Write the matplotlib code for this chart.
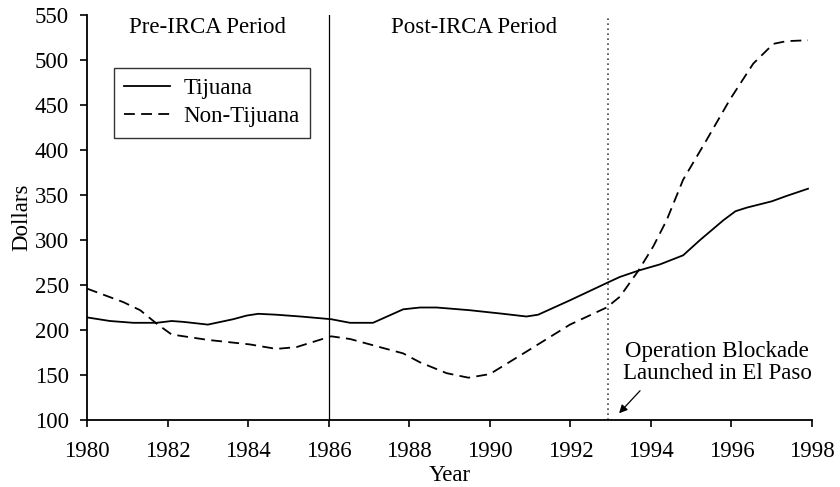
import matplotlib
matplotlib.use("Agg")
import matplotlib.pyplot as plt

plt.rcParams["font.family"] = ["Liberation Serif", "DejaVu Serif"]

# ---------- data ----------
tij_year = [1980.0, 1980.57, 1981.15, 1981.73, 1982.1, 1982.4, 1983.0, 1983.63,
            1983.96, 1984.25, 1984.7, 1985.3, 1986.06, 1986.53, 1987.1, 1987.5,
            1987.85, 1988.27, 1988.68, 1989.5, 1990.33, 1990.91, 1991.2, 1991.99,
            1992.94, 1993.23, 1993.69, 1994.23, 1994.8, 1995.22, 1995.8, 1996.1,
            1996.38, 1997.0, 1997.37, 1997.9]
tij_val = [214, 210, 208, 208, 210, 209, 206, 212,
           216, 218, 217, 215, 212, 208, 208, 216,
           223, 225, 225, 222, 218, 215, 217, 233,
           253, 259, 266, 273, 283, 300, 322, 332,
           336, 343, 349, 357]

non_year = [1980.0, 1980.9, 1981.32, 1981.73, 1982.1, 1983.0, 1984.04, 1984.7,
            1985.2, 1986.06, 1986.53, 1987.35, 1987.85, 1988.27, 1988.93, 1989.47,
            1990.0, 1990.91, 1991.99, 1992.9, 1993.23, 1993.69, 1994.06, 1994.39,
            1994.8, 1995.38, 1995.96, 1996.54, 1997.04, 1997.37, 1997.9]
non_val = [246, 231, 222, 207, 195, 189, 184, 179,
           181, 193, 190, 180, 174, 164, 152, 147,
           151, 176, 206, 225, 237, 266, 293, 322,
           367, 411, 456, 496, 518, 521, 522]

irca_year = 1986
blockade_year = 1992.93

# ---------- plot ----------
fig = plt.figure(figsize=(8.4, 4.87), dpi=100)
ax = fig.add_axes([0.1036, 0.1376, 0.8631, 0.8315])

fs = 16.5

ax.plot(tij_year, tij_val, color="black", lw=1.3, label="Tijuana")
ax.plot(non_year, non_val, color="black", lw=1.3, dashes=(6, 3.5), label="Non-Tijuana")

ax.axvline(irca_year, color="black", lw=0.9)
ax.axvline(blockade_year, color="#444444", lw=1.2, linestyle=(0, (1, 2)))

ax.set_xlim(1980, 1998)
ax.set_ylim(100, 550)
ax.set_xticks(range(1980, 1999, 2))
ax.set_yticks(range(100, 551, 50))
ax.tick_params(labelsize=fs, length=5, width=1.2, direction="out")
ax.tick_params(axis="x", pad=10)
ax.tick_params(axis="y", pad=8)
for s in ["top", "right"]:
    ax.spines[s].set_visible(False)
for s in ["left", "bottom"]:
    ax.spines[s].set_linewidth(1.3)

ax.set_xlabel("Year", fontsize=fs, labelpad=2)
ax.set_ylabel("Dollars", fontsize=fs, labelpad=2)

ax.text(1983.0, 536, "Pre-IRCA Period", fontsize=fs, ha="center", va="center")
ax.text(1989.6, 536, "Post-IRCA Period", fontsize=fs, ha="center", va="center")

ax.text(1995.65, 164, "Operation Blockade\nLaunched in El Paso",
        fontsize=fs, ha="center", va="center", linespacing=1.05)
ax.annotate("", xy=(1993.21, 107.5), xytext=(1993.73, 132.5),
            arrowprops=dict(arrowstyle="-|>", color="black", lw=0.9,
                            shrinkA=0, shrinkB=0, mutation_scale=12))

leg = ax.legend(loc="upper left", bbox_to_anchor=(0.037, 0.869), fontsize=fs,
                frameon=True, fancybox=False, edgecolor="black",
                handlelength=2.0, borderpad=0.45, labelspacing=0.3,
                handletextpad=0.6, borderaxespad=0)
leg.get_frame().set_linewidth(1.0)

fig.savefig("out.png", dpi=100)
